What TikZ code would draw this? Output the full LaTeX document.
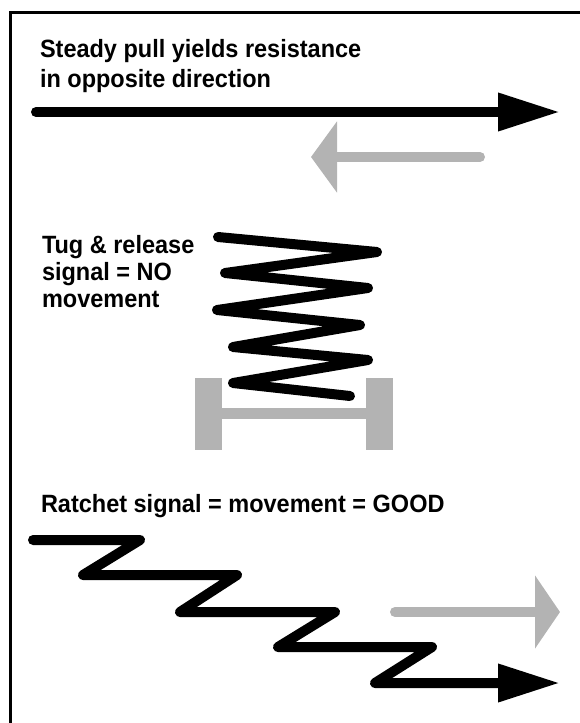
\documentclass[tikz,border=0pt]{standalone}
\usepackage{fontspec}
\setmainfont{Liberation Sans}[FakeStretch=0.94]
\usetikzlibrary{arrows.meta}
\definecolor{pale}{RGB}{179, 179, 179}

\begin{document}
\begin{tikzpicture}[x=1pt, y=-1pt, line width=10pt,
  caption/.style={anchor=base west, align=left, inner sep=0pt, font=\bfseries\fontsize{25}{30}\selectfont}]
  \useasboundingbox (0, 0) rectangle (580, 723);
  \draw[line width=3pt] (10, 723) -- (10, 12) -- (580, 12);

  % steady pull (base = last line)
  \node[caption] (pull) at (35, 87) {Steady pull yields resistance\\in opposite direction};
  \draw[line cap=round, -{Triangle[length=62pt, width=36pt]}] (36, 112) -- (560, 112);
  \draw[pale, line cap=round, -{Triangle[length=26pt, width=70pt]}] (480, 157) -- (311, 157);

  % tug and release
  \node[caption, font=\bfseries\fontsize{25}{27}\selectfont] (tug) at (37, 307) {Tug \& release\\signal = NO\\movement};
  \fill[pale] (195, 378) rectangle (222, 450);
  \fill[pale] (366, 378) rectangle (393, 450);
  \fill[pale] (222, 408) rectangle (366, 419);
  \draw[line cap=round, line join=round] (218, 237) -- (377, 252) -- (225, 273) -- (368, 288)
    -- (217, 310) -- (360, 325) -- (233, 347) -- (368, 360) -- (233, 383) -- (350, 396);

  % ratchet
  \node[caption] (ratchet) at (36, 512) {Ratchet signal = movement = GOOD};
  \draw[pale, line cap=round, -{Triangle[length=25pt, width=72pt]}] (395, 612) -- (560, 612);
  \draw[line cap=round, line join=round, -{Triangle[length=62pt, width=36pt]}]
    (33, 540) -- (140, 540) -- (83, 575) -- (237, 575) -- (180, 612) -- (335, 612)
    -- (278, 647) -- (432, 647) -- (375, 683) -- (560, 683);
\end{tikzpicture}
\end{document}
